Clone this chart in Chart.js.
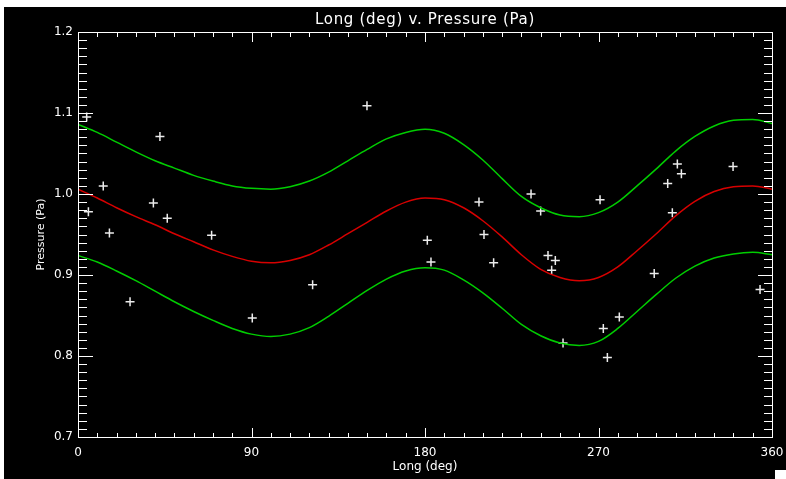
<!DOCTYPE html>
<html>
<head>
<meta charset="utf-8">
<script src="https://cdn.jsdelivr.net/npm/chart.js@4.4.1/dist/chart.umd.min.js"></script>
<style>
  html, body { margin: 0; padding: 0; background: #ffffff; }
  body { width: 786px; height: 479px; position: relative; overflow: hidden; }
  #wrap { position: absolute; left: 4px; top: 7px; width: 782px; height: 472px; background: #000000; }
  #corner { position: absolute; left: 775px; top: 470px; width: 11px; height: 9px; background: #ffffff; }
</style>
</head>
<body>
<div id="wrap"><canvas id="pressure-chart"></canvas></div>
<div id="corner"></div>
<script>
// fitted curves, read every 10 deg
const curveLong = [0, 10, 20, 30, 40, 50, 60, 70, 80, 90, 100, 110, 120, 130, 140, 150, 160, 170, 180,
  190, 200, 210, 220, 230, 240, 250, 260, 270, 280, 290, 300, 310, 320, 330, 340, 350, 360];
const fitMean = [1.006, 0.995, 0.983, 0.972, 0.962, 0.951, 0.941, 0.931, 0.923, 0.917, 0.915, 0.918, 0.925,
  0.937, 0.951, 0.965, 0.979, 0.990, 0.995, 0.993, 0.983, 0.967, 0.947, 0.925, 0.907, 0.897, 0.893, 0.897,
  0.910, 0.930, 0.951, 0.973, 0.991, 1.003, 1.009, 1.010, 1.006];
const fitUpper = [1.086, 1.076, 1.064, 1.052, 1.041, 1.032, 1.023, 1.016, 1.010, 1.007, 1.006, 1.009, 1.016,
  1.027, 1.041, 1.055, 1.068, 1.076, 1.080, 1.075, 1.061, 1.042, 1.019, 0.997, 0.983, 0.974, 0.972, 0.977,
  0.990, 1.010, 1.031, 1.053, 1.071, 1.084, 1.091, 1.092, 1.087];
const fitLower = [0.924, 0.916, 0.905, 0.893, 0.880, 0.867, 0.855, 0.844, 0.834, 0.827, 0.824, 0.827, 0.835,
  0.849, 0.865, 0.881, 0.895, 0.905, 0.909, 0.906, 0.894, 0.878, 0.859, 0.839, 0.825, 0.816, 0.813, 0.818,
  0.834, 0.855, 0.876, 0.896, 0.911, 0.921, 0.926, 0.928, 0.925];

// observations
const obsLong = [4.5, 42.5, 13.1, 39.1, 5.4, 46.3, 16.3, 69.3, 27.0, 90.4, 149.9, 121.7, 208.0, 235.0, 240.0,
  210.6, 181.2, 183.1, 215.6, 243.8, 247.6, 245.7, 251.6, 270.8, 310.9, 313.0, 305.9, 339.8, 308.3, 298.9,
  353.8, 280.8, 272.5, 274.6];
const obsPressure = [1.095, 1.071, 1.010, 0.989, 0.978, 0.970, 0.952, 0.949, 0.867, 0.847, 1.109, 0.888, 0.990,
  1.000, 0.979, 0.950, 0.943, 0.916, 0.915, 0.924, 0.918, 0.906, 0.816, 0.993, 1.037, 1.025, 1.013, 1.034,
  0.977, 0.902, 0.882, 0.848, 0.834, 0.798];

const longTicks = [0, 90, 180, 270, 360];
const pressureTicks = [0.7, 0.8, 0.9, 1.0, 1.1, 1.2];

const toXY = (xs, ys) => xs.map((x, i) => ({ x: x, y: ys[i] }));

const fontFace = "'DejaVu Sans', sans-serif";

// black page, frame with inward ticks, title and axis titles
const idlFrame = {
  id: 'idlFrame',
  beforeDraw(chart) {
    const c = chart.ctx;
    c.save();
    c.fillStyle = '#000';
    c.fillRect(0, 0, chart.width, chart.height);
    c.restore();
  },
  afterDraw(chart) {
    const c = chart.ctx;
    const a = chart.chartArea;
    const xs = chart.scales.x, ys = chart.scales.y;
    const L = Math.round(a.left), R = Math.round(a.right);
    const T = Math.round(a.top), B = Math.round(a.bottom);
    c.save();
    c.fillStyle = '#ffffff';
    c.fillRect(L, T, R - L + 1, 1);
    c.fillRect(L, B, R - L + 1, 1);
    c.fillRect(L, T, 1, B - T + 1);
    c.fillRect(R, T, 1, B - T + 1);
    // long: minor every 10 deg, major every 90
    for (let d = 0; d <= 360; d += 10) {
      const px = Math.round(xs.getPixelForValue(d));
      const len = d % 90 === 0 ? 9 : 4;
      c.fillRect(px, B - len, 1, len);
      c.fillRect(px, T + 1, 1, len);
    }
    // pressure: minor every 0.01, major every 0.1
    for (let i = 70; i <= 120; i++) {
      const py = Math.round(ys.getPixelForValue(i / 100));
      const len = i % 10 === 0 ? 14 : 8;
      c.fillRect(L + 1, py, len, 1);
      c.fillRect(R - len, py, len, 1);
    }

    c.textAlign = 'center';
    c.textBaseline = 'middle';
    const cx = (a.left + a.right) / 2;
    c.font = '15px ' + fontFace;
    c.letterSpacing = '0.7px';
    c.fillText('Long (deg) v. Pressure (Pa)', cx, 13.5);
    c.letterSpacing = '0px';
    c.font = '12px ' + fontFace;
    c.fillText('Long (deg)', cx, 460);
    c.translate(37, (a.top + a.bottom) / 2);
    c.rotate(-Math.PI / 2);
    c.font = '11px ' + fontFace;
    c.fillText('Pressure (Pa)', 0, 0);
    c.restore();
  }
};

document.addEventListener('DOMContentLoaded', function() {
  const ctx = document.getElementById('pressure-chart').getContext('2d');

  new Chart(ctx, {
    type: 'scatter',
    data: {
      datasets: [
        {
          label: 'Upper',
          data: toXY(curveLong, fitUpper),
          showLine: true,
          borderColor: 'rgb(0, 205, 0)',
          borderWidth: 1.5,
          pointRadius: 0,
          cubicInterpolationMode: 'monotone'
        },
        {
          label: 'Mean',
          data: toXY(curveLong, fitMean),
          showLine: true,
          borderColor: 'rgb(215, 0, 0)',
          borderWidth: 1.5,
          pointRadius: 0,
          cubicInterpolationMode: 'monotone'
        },
        {
          label: 'Lower',
          data: toXY(curveLong, fitLower),
          showLine: true,
          borderColor: 'rgb(0, 205, 0)',
          borderWidth: 1.5,
          pointRadius: 0,
          cubicInterpolationMode: 'monotone'
        },
        {
          label: 'Obs',
          data: toXY(obsLong, obsPressure),
          pointStyle: 'cross',
          pointRadius: 4.5,
          borderColor: '#ececec',
          borderWidth: 1.5,
          backgroundColor: '#ececec'
        }
      ]
    },
    options: {
      responsive: true,
      maintainAspectRatio: false,
      animation: false,
      layout: { padding: { left: 0, top: 25, right: 14, bottom: 0 } },
      plugins: {
        legend: { display: false },
        tooltip: { enabled: false }
      },
      scales: {
        x: {
          type: 'linear',
          min: 0,
          max: 360,
          afterFit: function(scale) { scale.height = 42; },
          afterBuildTicks: function(scale) { scale.ticks = longTicks.map(v => ({ value: v })); },
          grid: { display: false, drawTicks: true, tickLength: 9 }, // tick marks drawn by idlFrame
          border: { display: false },
          ticks: {
            color: '#ffffff',
            padding: 0,
            maxRotation: 0,
            autoSkip: false,
            font: { size: 12, family: fontFace }
          }
        },
        y: {
          type: 'linear',
          min: 0.7,
          max: 1.2,
          afterFit: function(scale) { scale.width = 74; },
          afterBuildTicks: function(scale) { scale.ticks = pressureTicks.map(v => ({ value: v })); },
          grid: { display: false, drawTicks: false },
          border: { display: false },
          ticks: {
            color: '#ffffff',
            padding: 5,
            autoSkip: false,
            font: { size: 12, family: fontFace },
            callback: function(value) { return Number(value).toFixed(1); }
          }
        }
      }
    },
    plugins: [idlFrame]
  });
});
</script>
</body>
</html>
